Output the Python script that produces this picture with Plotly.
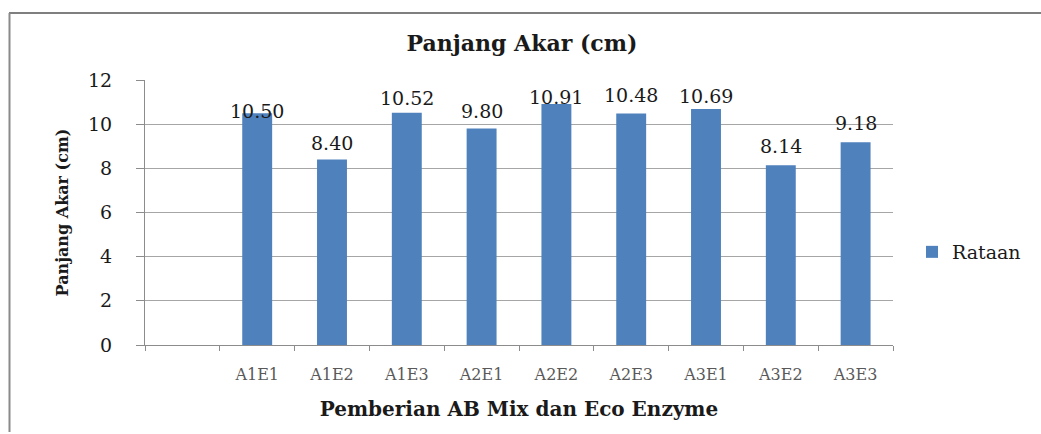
import plotly.graph_objects as go

# Treatment combinations (first slot on the axis is left blank)
categories = ["A1E1", "A1E2", "A1E3", "A2E1", "A2E2", "A2E3", "A3E1", "A3E2", "A3E3"]
axis_slots = [" "] + categories
rataan = [10.50, 8.40, 10.52, 9.80, 10.91, 10.48, 10.69, 8.14, 9.18]
label_text = ["10.50", "8.40", "10.52", "9.80", "10.91", "10.48", "10.69", "8.14", "9.18"]
y_ticks = [0, 2, 4, 6, 8, 10, 12]

# vertical offset (px) of each value label above its bar top
label_lift = [2, 17, 15, 18, 7, 19, 13, 19, 19]

SERIF = "DejaVu Serif"
BLUE = "#4F81BD"
GRID = "#8c8c8c"
INK = "#1a1a1a"

fig = go.Figure()
fig.add_trace(go.Bar(
    x=categories, y=rataan, name="Rataan",
    marker=dict(color=BLUE, line=dict(width=0)),
    width=0.4,
))

annotations = []
for cat, val, txt, lift in zip(categories, rataan, label_text, label_lift):
    annotations.append(dict(
        x=cat, y=val, xref="x", yref="y", text=txt, showarrow=False,
        yanchor="middle", yshift=lift,
        font=dict(family=SERIF, size=19, color=INK),
    ))

# plot-area geometry in pixels, used for the outer frame lines
L, R, T, B = 145, 148, 80, 89
W, H = 1041, 434
pw, ph = W - L - R, H - T - B
def px_x(px):
    return (px - L) / pw
def px_y(py):
    return (H - B - py) / ph

shapes = [
    dict(type="line", xref="paper", yref="paper",
         x0=px_x(9), x1=px_x(1045), y0=px_y(13), y1=px_y(13),
         line=dict(color="#7f7f7f", width=2)),
    dict(type="line", xref="paper", yref="paper",
         x0=px_x(9.5), x1=px_x(9.5), y0=px_y(13), y1=px_y(432),
         line=dict(color="#8a8a8a", width=2)),
]

fig.update_layout(
    width=W, height=H,
    margin=dict(l=L, r=R, t=T, b=B),
    paper_bgcolor="white", plot_bgcolor="white",
    title=dict(text="<b>Panjang Akar (cm)</b>", x=px_x(522), xref="paper",
               y=1 - 43 / H, yanchor="middle",
               font=dict(family=SERIF, size=22, color=INK)),
    showlegend=True,
    legend=dict(x=px_x(912), y=px_y(252), xref="paper", yref="paper",
                xanchor="left", yanchor="middle",
                font=dict(family=SERIF, size=19, color=INK),
                itemwidth=30, bgcolor="rgba(0,0,0,0)"),
    bargap=0.6,
    annotations=annotations,
    shapes=shapes,
)

fig.update_xaxes(
    type="category", categoryorder="array", categoryarray=axis_slots,
    range=[-0.5, len(axis_slots) - 0.5],
    showline=True, linecolor=GRID, linewidth=1,
    ticks="outside", tickson="boundaries", ticklen=5, tickcolor=GRID,
    ticklabelstandoff=15,
    tickfont=dict(family=SERIF, size=16, color="#595959"),
    showgrid=False,
    title=dict(text="<b>Pemberian AB Mix dan Eco Enzyme</b>", standoff=18,
               font=dict(family=SERIF, size=20, color=INK)),
)

fig.update_yaxes(
    range=[0, 12], tickvals=y_ticks,
    showline=True, linecolor=GRID, linewidth=1,
    ticks="outside", ticklen=8, tickcolor=GRID,
    ticklabelstandoff=20,
    showgrid=True, gridcolor="#a6a6a6", gridwidth=1,
    zeroline=False,
    tickfont=dict(family=SERIF, size=19, color=INK),
    title=dict(text="<b>Panjang Akar (cm)</b>", standoff=15,
               font=dict(family=SERIF, size=16, color=INK)),
)

fig.write_html("out.html")
